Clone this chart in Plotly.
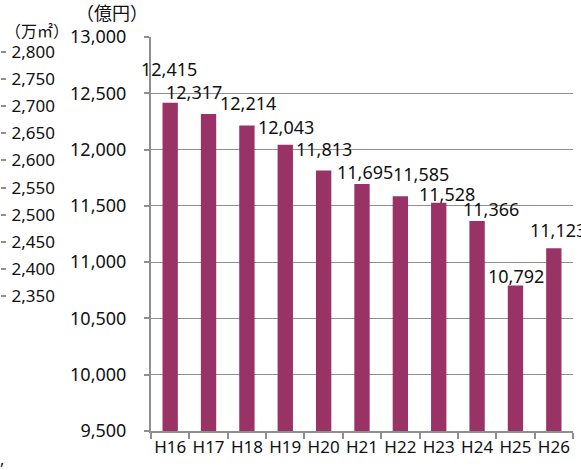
import plotly.graph_objects as go

# Fiscal years (Heisei) and amounts in 億円
years = ["H16", "H17", "H18", "H19", "H20", "H21", "H22", "H23", "H24", "H25", "H26"]
amounts = [12415, 12317, 12214, 12043, 11813, 11695, 11585, 11528, 11366, 10792, 11123]

# Tick labels for the two value axes
yen_ticks = [9500, 10000, 10500, 11000, 11500, 12000, 12500, 13000]
area_ticks = [2350, 2400, 2450, 2500, 2550, 2600, 2650, 2700, 2750, 2800]

# Hand-placed offsets (px) of the value labels relative to each bar top
label_dx = [-1, -15, 1, 1, 0, 3, 21, 8, 14, 1, 4]
label_dy = [34, 22, 22, 18, 22, 12, 22, 9, 12, 10, 18]

FONT = "Noto Sans, Noto Sans CJK JP"
CJK = "Noto Sans CJK JP"
BAR = "#993366"
GRID = "#8f8f8f"
TXT = "#111111"
SIZE = 18

fig = go.Figure()
fig.add_trace(go.Bar(
    x=years, y=amounts, marker=dict(color=BAR, line=dict(width=0)),
    hoverinfo="x+y", showlegend=False,
))
# Empty trace so the area axis is drawn
fig.add_trace(go.Scatter(x=years, y=[None] * len(years), yaxis="y2",
                         showlegend=False, hoverinfo="skip", mode="lines"))

annotations = []
for yr, v, dx, dy in zip(years, amounts, label_dx, label_dy):
    annotations.append(dict(
        x=yr, y=v, xref="x", yref="y", text=f"{v:,}", showarrow=False,
        xanchor="center", yanchor="middle", xshift=dx, yshift=dy,
        font=dict(family=FONT, size=SIZE, color=TXT),
    ))
annotations += [
    dict(x=112 / 581, y=1.0, xref="paper", yref="paper", yshift=25,
         text="（億円）", showarrow=False, xanchor="center", yanchor="middle",
         font=dict(family=CJK, size=18, color=TXT)),
    dict(x=0, y=1.0, xref="paper", yref="paper", yshift=7, xshift=3,
         text="（万㎡）", showarrow=False, xanchor="left", yanchor="middle",
         font=dict(family=CJK, size=16, color=TXT)),
    dict(x=0, y=0, xref="paper", yref="paper", yshift=-28, xshift=-2,
         text=",", showarrow=False, xanchor="left", yanchor="middle",
         font=dict(family=FONT, size=16, color=TXT)),
]

fig.update_layout(
    width=581, height=470,
    margin=dict(l=0, r=0, t=37, b=39, pad=0),
    paper_bgcolor="white", plot_bgcolor="white",
    bargap=0.6,
    font=dict(family=FONT, size=SIZE, color=TXT),
    annotations=annotations,
    xaxis=dict(
        domain=[151 / 581, 573 / 581],
        type="category", categoryorder="array", categoryarray=years,
        range=[-0.5, len(years) - 0.5], tickangle=0,
        showline=True, linecolor=GRID, linewidth=2,
        ticks="outside", ticklen=6, tickcolor=GRID, tickwidth=1.5,
        tickson="boundaries", showgrid=False,
        tickfont=dict(family=FONT, size=17, color=TXT),
    ),
    yaxis=dict(
        range=[9500, 13000], tickvals=yen_ticks,
        ticktext=[f"{t:,}" for t in yen_ticks],
        showline=True, linecolor=GRID, linewidth=2,
        ticks="outside", ticklen=5, tickcolor=GRID, tickwidth=1.5,
        ticklabelstandoff=14,
        showgrid=True, gridcolor=GRID, gridwidth=1, zeroline=False,
        tickfont=dict(family=FONT, size=SIZE, color=TXT),
    ),
    yaxis2=dict(
        overlaying="y", anchor="free", position=0, side="left",
        range=[2101, 2827.7], tickvals=area_ticks,
        ticktext=[f"{t:,}" for t in area_ticks],
        ticks="inside", ticklen=5, tickcolor=GRID, tickwidth=1.5,
        ticklabelposition="inside", ticklabelstandoff=6,
        showline=False, showgrid=False, zeroline=False,
        tickfont=dict(family=FONT, size=17, color=TXT),
    ),
)

fig.write_html("out.html")
